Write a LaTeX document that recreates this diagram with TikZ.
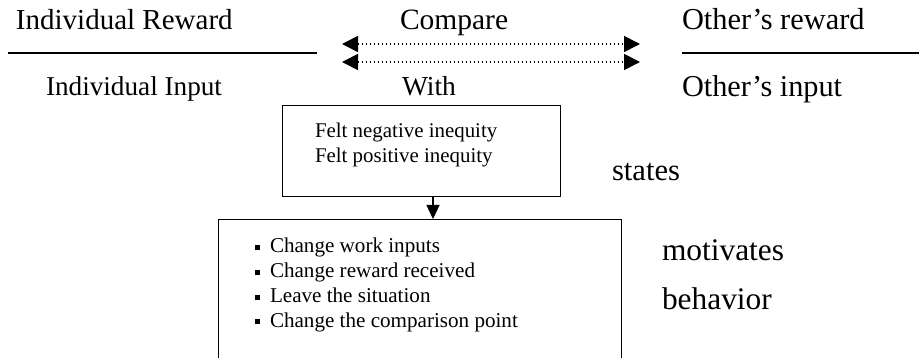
\documentclass[tikz,border=0pt]{standalone}
\usepackage{fontspec}
\setmainfont{Liberation Serif}
\usetikzlibrary{arrows.meta}
\newcommand{\fsz}[1]{\fontsize{#1}{#1}\selectfont}
\tikzset{
  lbl/.style={anchor=base west, inner sep=0pt, outer sep=0pt},
  boxnode/.style={draw, line width=1.3pt, anchor=north west, inner sep=0pt},
  dotarrow/.style={line width=1.7pt, dash pattern=on 1.4pt off 2.6pt, {Triangle[length=16pt,width=16pt]}-{Triangle[length=16pt,width=16pt]}},
  downarrow/.style={line width=1.3pt, -{Triangle[length=14pt,width=13pt]}},
  fracline/.style={line width=1.5pt},
  bul/.style={fill=black}
}
\begin{document}
\begin{tikzpicture}[x=1pt,y=-1pt]
\clip (0,0) rectangle (919,358);
\fill[white] (0,0) rectangle (919,358);
% top row texts
\node[lbl] (ir) at (16,30) {\fsz{29}Individual Reward};
\node[lbl] (ii) at (46,96) {\fsz{27.2}Individual Input};
\node[lbl] (cmp) at (400,30) {\fsz{29.5}Compare};
\node[lbl] (with) at (402,96) {\fsz{27.5}With};
\node[lbl] (or) at (682,30) {\fsz{30.4}Other's reward};
\node[lbl] (oi) at (682,97) {\fsz{30.3}Other's input};
% fraction lines
\coordinate (l1) at (8,53);
\coordinate (l2) at (317,53);
\coordinate (r1) at (682,53);
\coordinate (r2) at (919,53);
\draw[fracline] (l1) -- (l2);
\draw[fracline] (r1) -- (r2);
% dotted double arrows
\coordinate (a1l) at (342,44);
\coordinate (a1r) at (640,44);
\coordinate (a2l) at (342,62);
\coordinate (a2r) at (640,62);
\draw[dotarrow] (a1l) -- (a1r);
\draw[dotarrow] (a2l) -- (a2r);
% box 1
\node[boxnode, minimum width=278pt, minimum height=91pt] (box1) at (282,105) {};
\node[lbl] (neg) at (315,138) {\fsz{20.9}Felt negative inequity};
\node[lbl] (pos) at (315,163) {\fsz{20.9}Felt positive inequity};
\node[lbl] (states) at (612,181) {\fsz{30.6}states};
% box 2
\node[boxnode, minimum width=403pt, minimum height=160pt] (box2) at (218,219) {};
\draw[downarrow] (box1.south -| 433,0) -- (box2.north -| 433,0);
\node[lbl] (c1) at (270,253) {\fsz{21.1}Change work inputs};
\node[lbl] (c2) at (270,278) {\fsz{21.1}Change reward received};
\node[lbl] (c3) at (270,303) {\fsz{21.1}Leave the situation};
\node[lbl] (c4) at (270,327) {\fsz{21.1}Change the comparison point};
\foreach \n in {c1,c2,c3,c4}{
  \fill[bul] ([xshift=-15pt,yshift=3pt]\n.base west) rectangle +(5,-5);
}
\node[lbl] (mot) at (662,261) {\fsz{31.4}motivates};
\node[lbl] (beh) at (662,309) {\fsz{31.4}behavior};
\end{tikzpicture}
\end{document}
